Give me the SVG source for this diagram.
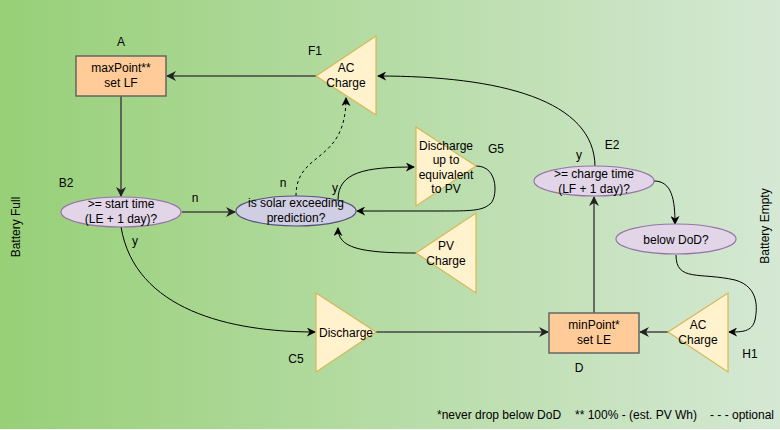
<svg xmlns="http://www.w3.org/2000/svg" width="780" height="430" viewBox="0 0 780 430">
<defs>
<linearGradient id="bg" x1="0" y1="0" x2="1" y2="0">
<stop offset="0" stop-color="#97D077"/>
<stop offset="1" stop-color="#D5E8D4"/>
</linearGradient>
<marker id="ah" viewBox="0 0 10 10" refX="9" refY="5" markerWidth="9" markerHeight="9" markerUnits="userSpaceOnUse" orient="auto">
<path d="M0,0 L10,5 L0,10 L3,5 Z" fill="#000"/>
</marker>
<marker id="ahg" viewBox="0 0 10 10" refX="9" refY="5" markerWidth="10" markerHeight="10" markerUnits="userSpaceOnUse" orient="auto">
<path d="M0,0 L10,5 L0,10 L3,5 Z" fill="#222"/>
</marker>
</defs>
<style>
text{font-family:"Liberation Sans",Arial,sans-serif;font-size:12px;fill:#000}
.c{text-anchor:middle}
.rect{fill:#FFCC99;stroke:#666;stroke-width:1.5}
.tri{fill:#FFF2CC;stroke:#D6B656;stroke-width:1.2}
.ell1{fill:#E1D5E7;stroke:#9673A6;stroke-width:1.2}
.ell2{fill:#D0CEE2;stroke:#56517E;stroke-width:1.2}
.e{fill:none;stroke:#000;stroke-width:1;marker-end:url(#ah)}
.s{fill:none;stroke:#444;stroke-width:1.5;marker-end:url(#ahg)}
.d{stroke-dasharray:3 3}
</style>
<rect x="0" y="0" width="780" height="430" fill="#fff"/>
<rect x="0" y="0" width="780" height="429" fill="url(#bg)"/>

<g id="connectors">
<path class="s" d="M316,76 L167,76"/>
<path class="s" d="M121,96 L121,196"/>
<path class="s" d="M182,212 L235,212"/>
<path class="e d" d="M296,196 C296,150 346,165 346,98"/>
<path class="e" d="M338,200 C338,172 365,167 414,167"/>
<path class="e" d="M476,166 C500,166 497,200 490,204 C482,211 470,211 440,211 L357,211"/>
<path class="e" d="M416,253 C360,253 338,248 338,228"/>
<path class="e" d="M121,227 C135,310 230,332 315,332"/>
<path class="s" d="M376,332 L548,332"/>
<path class="s" d="M594,313 L594,197"/>
<path class="e" d="M595,167 C595,100 500,76 378,76"/>
<path class="e" d="M654,181 C672,181 675,200 675,224"/>
<path class="e" d="M676,255 C676,282 700,272 735,280 C760,287 757,310 755,320 C752,332 742,332 729,332"/>
<path class="s" d="M668,332 L640,332"/>
</g>

<g id="A">
<rect class="rect" x="76" y="56" width="90" height="40"/>
<text class="c" x="121" y="72">maxPoint**</text>
<text class="c" x="121" y="87">set LF</text>
<text class="c" x="121" y="46">A</text>
</g>

<g id="F1">
<polygon class="tri" points="316,76 376,36 376,115"/>
<text class="c" x="346" y="72">AC</text>
<text class="c" x="346" y="87">Charge</text>
<text class="c" x="315" y="55">F1</text>
</g>

<g id="B2">
<ellipse class="ell1" cx="121" cy="212" rx="60" ry="15"/>
<text class="c" x="121" y="208">&gt;= start time</text>
<text class="c" x="121" y="223">(LE + 1 day)?</text>
<text class="c" x="66" y="187">B2</text>
</g>

<g id="solar">
<ellipse class="ell2" cx="296" cy="211" rx="60" ry="15"/>
<text class="c" x="296" y="207">is solar exceeding</text>
<text class="c" x="296" y="222">prediction?</text>
</g>

<g id="G5">
<polygon class="tri" points="416,127 476,166 416,206"/>
<text class="c" x="446" y="150">Discharge</text>
<text class="c" x="446" y="164">up to</text>
<text class="c" x="446" y="179">equivalent</text>
<text class="c" x="446" y="193">to PV</text>
<text class="c" x="496" y="153">G5</text>
</g>

<g id="PV">
<polygon class="tri" points="416,253 476,213 476,293"/>
<text class="c" x="446" y="250">PV</text>
<text class="c" x="446" y="265">Charge</text>
</g>

<g id="C5">
<polygon class="tri" points="316,293 376,332 316,372"/>
<text class="c" x="346" y="337">Discharge</text>
<text class="c" x="296" y="363">C5</text>
</g>

<g id="D">
<rect class="rect" x="549" y="313" width="90" height="40"/>
<text class="c" x="594" y="329">minPoint*</text>
<text class="c" x="594" y="344">set LE</text>
<text class="c" x="579" y="372">D</text>
</g>

<g id="E2">
<ellipse class="ell1" cx="594" cy="181" rx="60" ry="15"/>
<text class="c" x="594" y="178">&gt;= charge time</text>
<text class="c" x="594" y="193">(LF + 1 day)?</text>
<text class="c" x="612" y="149">E2</text>
</g>

<g id="DoD">
<ellipse class="ell1" cx="676" cy="239" rx="60" ry="15"/>
<text class="c" x="676" y="244">below DoD?</text>
</g>

<g id="H1">
<polygon class="tri" points="668,332 728,293 728,372"/>
<text class="c" x="698" y="329">AC</text>
<text class="c" x="698" y="344">Charge</text>
<text class="c" x="750" y="358">H1</text>
</g>

<g id="labels">
<text class="c" x="195" y="202">n</text>
<text class="c" x="283" y="187">n</text>
<text class="c" x="335" y="192">y</text>
<text class="c" x="135" y="245">y</text>
<text class="c" x="579" y="159">y</text>
<text class="c" transform="translate(20,227) rotate(-90)">Battery Full</text>
<text class="c" transform="translate(769,226) rotate(-90)">Battery Empty</text>
<text x="437" y="419">*never drop below DoD</text>
<text x="575" y="419">** 100% - (est. PV Wh)</text>
<text x="710" y="419">- - - optional</text>
</g>
</svg>
